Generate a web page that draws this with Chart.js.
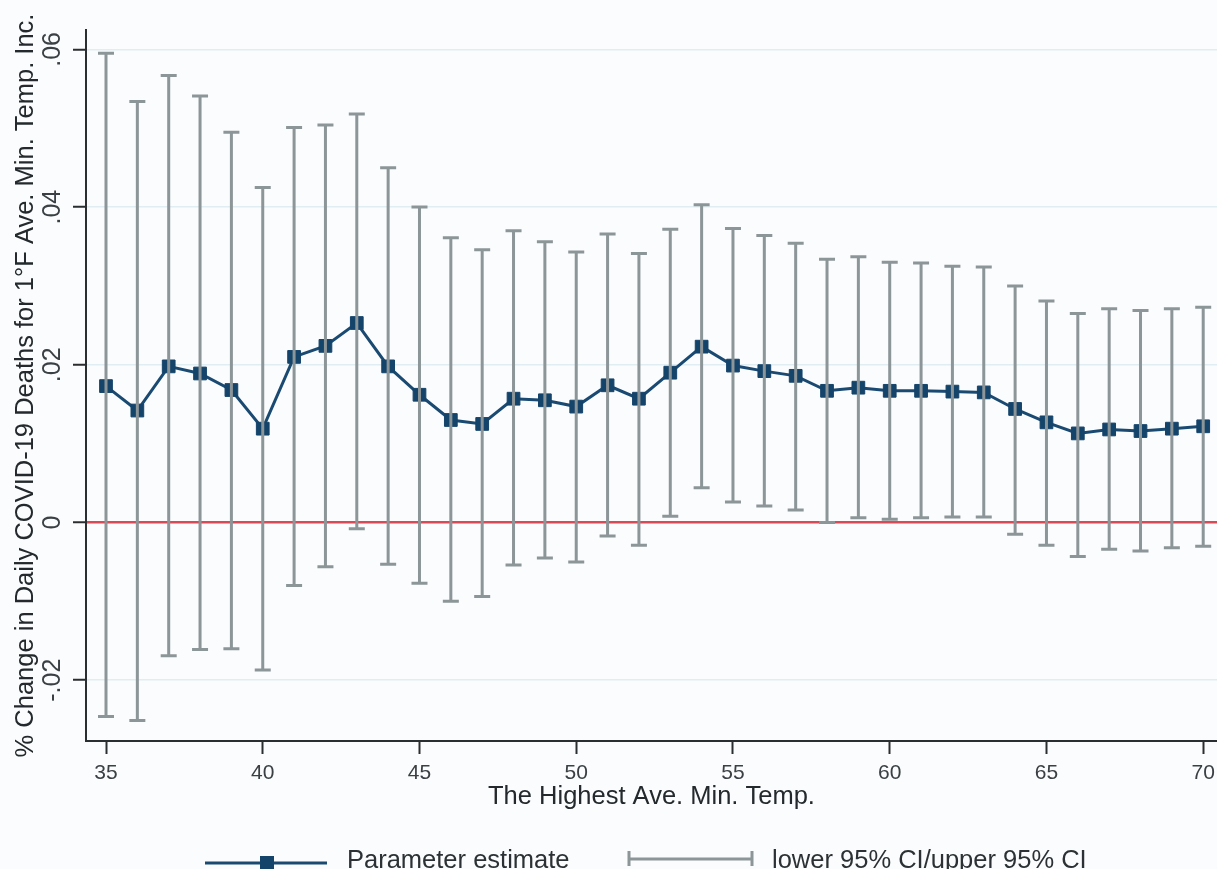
<!DOCTYPE html>
<html lang="en">
  <head>
    <meta charset="UTF-8" />
    <title>% Change in Daily COVID-19 Deaths</title>
    <script src="https://cdn.jsdelivr.net/npm/chart.js@4/dist/chart.umd.min.js"></script>
    <style>
      html, body { margin: 0; padding: 0; background: #fbfcfd; overflow: hidden; }
      canvas { display: block; }
    </style>
  </head>
  <body>
    <canvas id="tempChart" width="1217" height="869"></canvas>

    <script>
      // Highest average minimum temperature (x) and estimates
      const temps = [35, 36, 37, 38, 39, 40, 41, 42, 43, 44, 45, 46, 47, 48, 49, 50, 51, 52,
        53, 54, 55, 56, 57, 58, 59, 60, 61, 62, 63, 64, 65, 66, 67, 68, 69, 70]
      const estimate = [0.0173, 0.0142, 0.0198, 0.0189, 0.0168, 0.0119, 0.0210, 0.0224, 0.0253,
        0.0198, 0.0162, 0.0130, 0.0125, 0.0157, 0.0155, 0.0147, 0.0174, 0.0157, 0.0190, 0.0223,
        0.0199, 0.0192, 0.0186, 0.0167, 0.0171, 0.0167, 0.0167, 0.0166, 0.0165, 0.0144, 0.0127,
        0.0113, 0.0118, 0.0116, 0.0119, 0.0122]
      const upperCI = [0.0595, 0.0534, 0.0567, 0.0541, 0.0495, 0.0425, 0.0501, 0.0504, 0.0518,
        0.0450, 0.0400, 0.0361, 0.0346, 0.0370, 0.0356, 0.0343, 0.0366, 0.0341, 0.0372, 0.0403,
        0.0373, 0.0364, 0.0354, 0.0334, 0.0337, 0.0330, 0.0329, 0.0325, 0.0324, 0.0300, 0.0281,
        0.0265, 0.0271, 0.0269, 0.0271, 0.0273]
      const lowerCI = [-0.0246, -0.0251, -0.0169, -0.0161, -0.0160, -0.0187, -0.0080, -0.0056,
        -0.0008, -0.0053, -0.0077, -0.0100, -0.0094, -0.0054, -0.0045, -0.0050, -0.0017, -0.0029,
        0.0008, 0.0044, 0.0026, 0.0021, 0.0016, 0.0000, 0.0006, 0.0004, 0.0006, 0.0007, 0.0007,
        -0.0015, -0.0029, -0.0043, -0.0034, -0.0036, -0.0032, -0.0030]
      const xTicks = [35, 40, 45, 50, 55, 60, 65, 70]
      const yTicks = [-0.02, 0, 0.02, 0.04, 0.06]

      const NAVY = '#1a4a72'
      const GRAY = '#8c9598'
      const RED = '#d84a55'
      const FONT = 'Liberation Sans, Arial, sans-serif'

      function fmtY(v) {
        if (Math.abs(v) < 1e-9) return '0'
        return (v < 0 ? '-' : '') + Math.abs(v).toFixed(2).replace(/^0/, '')
      }

      // background
      const bgPlugin = {
        id: 'bg',
        beforeDraw(chart) {
          const c = chart.ctx
          c.save()
          c.fillStyle = '#fbfcfd'
          c.fillRect(0, 0, chart.width, chart.height)
          c.restore()
        }
      }

      // capped confidence interval bars, on top of the estimate line
      const ciPlugin = {
        id: 'ciBars',
        afterDatasetsDraw(chart) {
          const c = chart.ctx
          const xs = chart.scales.x
          const ys = chart.scales.y
          c.save()
          c.strokeStyle = GRAY
          c.lineWidth = 3
          temps.forEach((t, i) => {
            const x = xs.getPixelForValue(t)
            const y1 = ys.getPixelForValue(lowerCI[i])
            const y2 = ys.getPixelForValue(upperCI[i])
            c.beginPath()
            c.moveTo(x, y1)
            c.lineTo(x, y2)
            c.moveTo(x - 8, y1)
            c.lineTo(x + 8, y1)
            c.moveTo(x - 8, y2)
            c.lineTo(x + 8, y2)
            c.stroke()
          })
          c.restore()
        }
      }

      // legend row under the axis title
      const legendPlugin = {
        id: 'legendRow',
        afterDraw(chart) {
          const c = chart.ctx
          c.save()
          // parameter estimate
          c.strokeStyle = NAVY
          c.lineWidth = 3
          c.beginPath()
          c.moveTo(205, 863)
          c.lineTo(327, 863)
          c.stroke()
          c.fillStyle = '#15446b'
          c.fillRect(260, 856, 14, 14)
          // CI
          c.strokeStyle = GRAY
          c.beginPath()
          c.moveTo(629, 859)
          c.lineTo(752, 859)
          c.moveTo(629, 851)
          c.lineTo(629, 866)
          c.moveTo(752, 851)
          c.lineTo(752, 866)
          c.stroke()
          c.fillStyle = '#2b3134'
          c.font = '25.5px ' + FONT
          c.textBaseline = 'alphabetic'
          c.fillText('Parameter estimate', 347, 868)
          c.fillText('lower 95% CI/upper 95% CI', 772, 868)
          c.restore()
        }
      }

      new Chart(document.getElementById('tempChart'), {
        type: 'line',
        data: {
          datasets: [
            {
              label: 'Parameter estimate',
              data: temps.map((t, i) => ({ x: t, y: estimate[i] })),
              borderColor: NAVY,
              borderWidth: 3,
              pointStyle: 'rect',
              pointRadius: 9,
              pointBorderWidth: 1,
              pointBackgroundColor: '#15446b',
              pointBorderColor: '#15446b',
              tension: 0
            }
          ]
        },
        options: {
          responsive: false,
          animation: false,
          devicePixelRatio: 1,
          layout: { autoPadding: false, padding: { top: 30, left: 0, right: 0, bottom: 0 } },
          plugins: {
            legend: { display: false },
            tooltip: { enabled: false }
          },
          scales: {
            x: {
              type: 'linear',
              min: 34.362,
              max: 70.44,
              afterBuildTicks: s => { s.ticks = xTicks.map(v => ({ value: v })) },
              afterFit: s => {
                s.height = 128
                s.paddingLeft = 0
                s.paddingRight = 0
              },
              border: { display: true, color: '#2a2e30', width: 2 },
              grid: {
                drawOnChartArea: false,
                drawTicks: true,
                tickLength: 13,
                tickColor: '#2a2e30',
                tickWidth: 2
              },
              ticks: {
                color: '#3a4044',
                font: { family: FONT, size: 21 },
                padding: 7,
                maxRotation: 0,
                callback: v => String(v)
              },
              title: {
                display: true,
                text: 'The Highest Ave. Min. Temp.',
                color: '#23292c',
                font: { family: FONT, size: 25.5 },
                padding: { top: 0, bottom: 57 }
              }
            },
            y: {
              type: 'linear',
              min: -0.02771,
              max: 0.06246,
              afterBuildTicks: s => { s.ticks = yTicks.map(v => ({ value: v })) },
              afterFit: s => {
                s.width = 86
                s.paddingTop = 0
                s.paddingBottom = 0
              },
              border: { display: true, color: '#2a2e30', width: 2 },
              grid: {
                color: ctx => (ctx.tick && ctx.tick.value === 0 ? RED : '#e0edf2'),
                lineWidth: ctx => (ctx.tick && ctx.tick.value === 0 ? 2.5 : 1.5),
                tickLength: 13,
                tickColor: '#2a2e30',
                tickWidth: 2
              },
              ticks: {
                color: '#3a4044',
                font: { family: FONT, size: 25 },
                padding: -2,
                minRotation: 90,
                maxRotation: 90,
                crossAlign: 'center',
                callback: v => fmtY(v)
              },
              title: {
                display: true,
                text: '% Change in Daily COVID-19 Deaths for 1°F Ave. Min. Temp. Inc.',
                color: '#23292c',
                font: { family: FONT, size: 25.5 },
                padding: { top: 11, bottom: 0 }
              }
            }
          }
        },
        plugins: [bgPlugin, ciPlugin, legendPlugin]
      })
    </script>
  </body>
</html>
